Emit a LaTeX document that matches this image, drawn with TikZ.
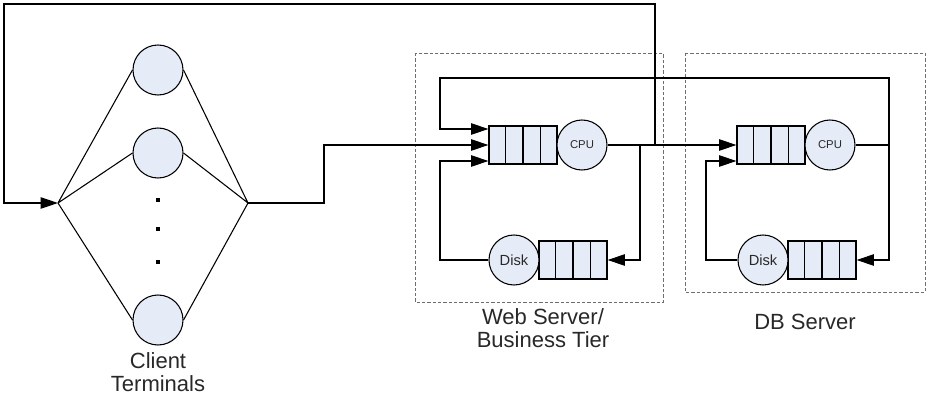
\documentclass[tikz,border=0pt]{standalone}
\usepackage{fontspec}
\setmainfont{Liberation Sans}
\usetikzlibrary{arrows.meta,calc}
\definecolor{nodefill}{RGB}{230,236,247}
\definecolor{txt}{RGB}{40,40,40}
\definecolor{dashgray}{RGB}{110,110,110}
\begin{document}
\begin{tikzpicture}[x=0.75pt,y=-0.75pt,
  line width=0.8pt,
  ctr/.style={circle,draw,fill=nodefill,minimum size=37.5pt,inner sep=0pt,text=txt},
  qbox/.style={rectangle,draw,fill=nodefill,minimum width=51pt,minimum height=28.5pt,inner sep=0pt},
  arr/.style={-{Triangle[length=13pt,width=8.5pt]}},
  tier/.style={draw=dashgray,dash pattern=on 2.5pt off 1.5pt,line width=0.7pt},
  lbl/.style={font=\fontsize{16.5}{17.5}\selectfont,text=txt,align=center},
  dotn/.style={fill,minimum size=2.5pt,inner sep=0pt},
  cpufont/.style={font=\fontsize{8.5}{9}\selectfont},
  diskfont/.style={font=\fontsize{11}{12}\selectfont}
]
\useasboundingbox (0,0) rectangle (928,403);
% tiers
\draw[tier] (415,53) rectangle (663,302);
\draw[tier] (685,53) rectangle (925,292);
% clients
\node[ctr] (c1) at (158,70) {};
\node[ctr] (c2) at (158,153) {};
\node[ctr] (c3) at (158,320) {};
\node[dotn] (d1) at (158,200) {};
\node[dotn] (d2) at (158,229) {};
\node[dotn] (d3) at (158,262) {};
\coordinate (lv) at (58,203);
\coordinate (rv) at (248,203);
\draw (lv) -- (c1.west) (lv) -- (c2.west) (lv) -- (c3.west);
\draw (rv) -- (c1.east) (rv) -- (c2.east) (rv) -- (c3.east);
% web server
\node[qbox] (q1) at (523,145) {};
\node[ctr,cpufont] (cpu1) at (582,145) {CPU};
\node[qbox] (q2) at (573,260) {};
\node[ctr,diskfont] (disk1) at (514,260) {Disk};
% db server
\node[qbox] (q3) at (771,145) {};
\node[ctr,cpufont] (cpu2) at (830,145) {CPU};
\node[qbox] (q4) at (822,260) {};
\node[ctr,diskfont] (disk2) at (763,260) {Disk};
\foreach \q in {q1,q2,q3,q4}{
  \foreach \f in {0.25,0.5,0.75}{
    \draw ($(\q.north west)!\f!(\q.north east)$) -- ($(\q.south west)!\f!(\q.south east)$);
  }
}
% junctions
\coordinate (j1) at (640,145);
\coordinate (j2) at (655,145);
\coordinate (j3) at (889,145);
% connectors
\draw[arr] (rv) -- ++(76,0) |- (q1.west);
\draw[arr] (cpu1.east) -- (q3.west);
\draw[arr] (j1) |- (q2.east);
\draw[arr] (j2) -- (655,4) -- (4,4) |- (lv);
\draw[arr] (disk1.west) -- (440,260) |- ($(q1.west)+(0,16)$);
\draw[arr] (cpu2.east) -- (j3) -- (889,78) -- (440,78) |- ($(q1.west)+(0,-16)$);
\draw[arr] (j3) |- (q4.east);
\draw[arr] (disk2.west) -- (706,260) |- ($(q3.west)+(0,16)$);
% labels
\node[lbl] (clientlbl) at (158,372) {Client\\Terminals};
\node[lbl] (weblbl) at (543,328) {Web Server/\\Business Tier};
\node[lbl] (dblbl) at (805,322) {DB Server};
\end{tikzpicture}
\end{document}
